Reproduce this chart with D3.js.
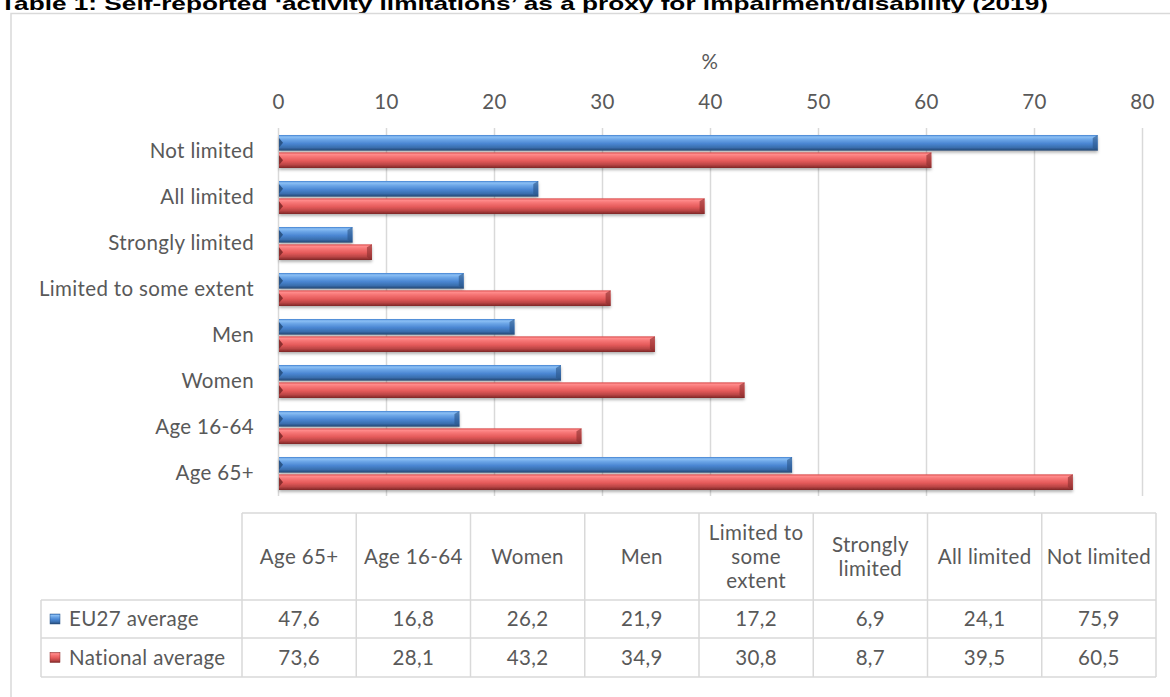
<!DOCTYPE html>
<html>
<head>
<meta charset="utf-8">
<script src="https://cdn.jsdelivr.net/npm/d3@7"></script>
<style>
  body { margin: 0; background: #fff; }
  svg { display: block; }
</style>
</head>
<body>
<div id="chart"></div>
<script>
// categories as they appear in the data table (left to right)
const categories = ["Age 65+", "Age 16-64", "Women", "Men", "Limited to some extent", "Strongly limited", "All limited", "Not limited"];
// header lines in the table (wrapped like the original)
const headerLines = [["Age 65+"], ["Age 16-64"], ["Women"], ["Men"], ["Limited to", "some", "extent"], ["Strongly", "limited"], ["All limited"], ["Not limited"]];
const seriesNames = ["EU27 average", "National average"];
const eu27 = [47.6, 16.8, 26.2, 21.9, 17.2, 6.9, 24.1, 75.9];
const national = [73.6, 28.1, 43.2, 34.9, 30.8, 8.7, 39.5, 60.5];
const xTicks = [0, 10, 20, 30, 40, 50, 60, 70, 80];
const titleText = "Table 1: Self-reported \u2018activity limitations\u2019 as a proxy for impairment/disability (2019)";

const W = 1170, H = 697;
const font = "Lato, 'Open Sans', sans-serif";
const fs = "20.5px";
const ls = "0.35px";
const textCol = "#595959";
const gridCol = "#d9d9d9";

const svg = d3.select("#chart").append("svg")
  .attr("width", W).attr("height", H);

const label = sel => sel
  .style("font-family", font).style("font-size", fs)
  .style("letter-spacing", ls).style("fill", textCol);

// gradients for the bevelled bars
const defs = svg.append("defs");
const makeGrad = (id, stops) => {
  const g = defs.append("linearGradient").attr("id", id)
    .attr("x1", 0).attr("y1", 0).attr("x2", 0).attr("y2", 1);
  stops.forEach(([o, c]) => g.append("stop").attr("offset", o).attr("stop-color", c));
};
makeGrad("gBlue", [["0", "#3f7fcf"], ["0.12", "#8cc0f5"], ["0.3", "#6aa4e6"], ["0.55", "#4a86d2"], ["0.8", "#3a6eae"], ["1", "#24456f"]]);
makeGrad("gRed", [["0", "#d84646"], ["0.12", "#ff8c8c"], ["0.3", "#f57272"], ["0.55", "#e45a5a"], ["0.8", "#b84444"], ["1", "#7c2525"]]);

const shadow = defs.append("filter").attr("id", "shadow")
  .attr("x", "-5%").attr("y", "-30%").attr("width", "110%").attr("height", "180%");
shadow.append("feDropShadow").attr("dx", 0).attr("dy", 2).attr("stdDeviation", 1.5)
  .attr("flood-color", "#000").attr("flood-opacity", 0.3);

// title (cropped at the top as in the original)
svg.append("text")
  .attr("x", 0).attr("y", 10)
  .attr("textLength", 1048).attr("lengthAdjust", "spacingAndGlyphs")
  .style("font-family", "'Liberation Sans', Arial, sans-serif")
  .style("font-weight", "bold").style("font-size", "19px")
  .style("fill", "#000")
  .text(titleText);

// chart frame
svg.append("rect")
  .attr("x", 11).attr("y", 13.5).attr("width", W).attr("height", H)
  .attr("fill", "none").attr("stroke", gridCol).attr("stroke-width", 1.5);

// scales
const x = d3.scaleLinear().domain([0, 80]).range([278, 1142]);
const y = d3.scaleBand().domain(categories.slice().reverse()).range([128, 496]).padding(0);
const ySub = d3.scaleBand().domain(seriesNames).range([7, 40]).paddingInner(0.1);

// gridlines
svg.append("g").selectAll("line").data(xTicks).join("line")
  .attr("x1", d => x(d) + 0.5).attr("x2", d => x(d) + 0.5)
  .attr("y1", 128).attr("y2", 496)
  .attr("stroke", gridCol).attr("stroke-width", 1.5);

// top axis labels
const axisTop = svg.append("g")
  .attr("transform", "translate(0,109)")
  .call(d3.axisTop(x).tickValues(xTicks).tickSize(0).tickPadding(0));
axisTop.select(".domain").remove();
axisTop.selectAll("text").call(label);

svg.append("text")
  .attr("x", 710).attr("y", 69).attr("text-anchor", "middle")
  .call(label)
  .text("%");

// category labels
svg.append("g").selectAll("text").data(categories).join("text")
  .attr("x", 254)
  .attr("y", d => y(d) + y.bandwidth() / 2)
  .attr("dy", "0.35em")
  .attr("text-anchor", "end")
  .call(label)
  .text(d => d);

// bars
const series = [
  { name: seriesNames[0], values: eu27, fill: "url(#gBlue)", edge: "#2a5588" },
  { name: seriesNames[1], values: national, fill: "url(#gRed)", edge: "#8a2e2e" }
];
series.forEach(s => {
  const g = svg.append("g");
  g.selectAll("rect").data(categories).join("rect")
    .attr("x", x(0) + 1)
    .attr("y", d => y(d) + ySub(s.name))
    .attr("width", (d, i) => x(s.values[i]) - x(0) - 1)
    .attr("height", ySub.bandwidth())
    .attr("fill", s.fill)
    .attr("filter", "url(#shadow)");
  // bevelled end caps
  g.selectAll("path").data(categories).join("path")
    .attr("d", (d, i) => {
      const x1 = x(s.values[i]), y0 = y(d) + ySub(s.name), h = ySub.bandwidth();
      return `M${x1 - 5},${y0 + 3} L${x1},${y0} L${x1},${y0 + h} L${x1 - 5},${y0 + h - 3} Z`;
    })
    .attr("fill", s.edge).attr("opacity", 0.6);
  g.selectAll("path.left").data(categories).join("path").attr("class", "left")
    .attr("d", d => {
      const x0 = x(0) + 1, y0 = y(d) + ySub(s.name), h = ySub.bandwidth();
      return `M${x0},${y0 + 3} L${x0 + 4},${y0 + h / 2} L${x0},${y0 + h - 3} Z`;
    })
    .attr("fill", s.edge);
});

// data table
const tx = d3.scaleBand().domain(categories).range([242, 1156]);
const rowY = [513, 600, 638, 677];
const legendLeft = 41;
const tbl = svg.append("g").attr("stroke", gridCol).attr("stroke-width", 1.5);

// horizontal lines
tbl.append("line").attr("x1", tx.range()[0]).attr("x2", tx.range()[1]).attr("y1", rowY[0]).attr("y2", rowY[0]);
rowY.slice(1).forEach(yy => tbl.append("line").attr("x1", legendLeft).attr("x2", tx.range()[1]).attr("y1", yy).attr("y2", yy));
// vertical lines
categories.concat(["end"]).forEach((c, i) => {
  const xx = i < categories.length ? tx(c) : tx.range()[1];
  tbl.append("line").attr("x1", xx).attr("x2", xx).attr("y1", rowY[0]).attr("y2", rowY[3]);
});
tbl.append("line").attr("x1", legendLeft).attr("x2", legendLeft).attr("y1", rowY[1]).attr("y2", rowY[3]);

// header text
const headG = svg.append("g");
categories.forEach((c, i) => {
  const lines = headerLines[i];
  const cy = (rowY[0] + rowY[1]) / 2;
  const lh = 24;
  lines.forEach((ln, j) => {
    headG.append("text")
      .attr("x", tx(c) + tx.bandwidth() / 2)
      .attr("y", cy + (j - (lines.length - 1) / 2) * lh)
      .attr("dy", "0.35em")
      .attr("text-anchor", "middle")
      .call(label)
      .text(ln);
  });
});

// value rows
const fmt = d3.formatLocale({ decimal: ",", thousands: ".", grouping: [3], currency: ["", ""] }).format(".1f");
series.forEach((s, r) => {
  const cy = (rowY[r + 1] + rowY[r + 2]) / 2;
  svg.append("rect")
    .attr("x", 50).attr("y", cy - 5).attr("width", 10).attr("height", 10)
    .attr("fill", s.fill).attr("stroke", s.edge).attr("stroke-width", 0.5);
  svg.append("text")
    .attr("x", 69).attr("y", cy).attr("dy", "0.35em")
    .call(label)
    .text(s.name);
  svg.append("g").selectAll("text").data(categories).join("text")
    .attr("x", d => tx(d) + tx.bandwidth() / 2)
    .attr("y", cy).attr("dy", "0.35em")
    .attr("text-anchor", "middle")
    .call(label)
    .text((d, i) => fmt(s.values[i]));
});
</script>
</body>
</html>
